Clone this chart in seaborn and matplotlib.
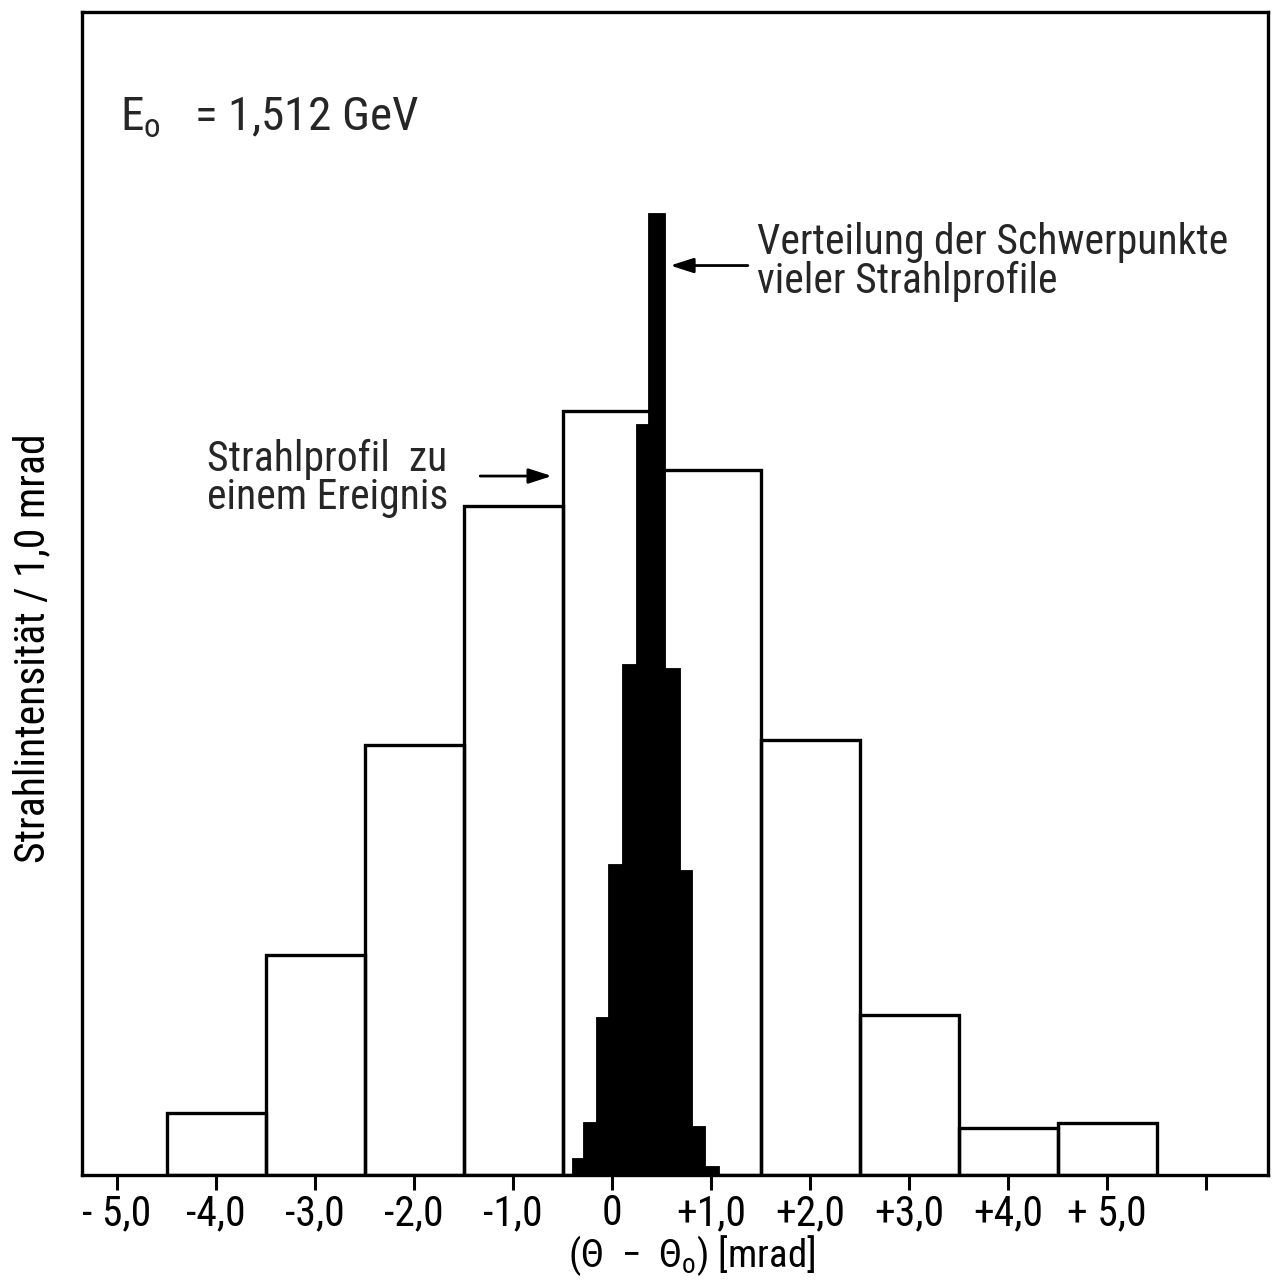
import numpy as np
import pandas as pd
import seaborn as sns
from matplotlib import pyplot as plt
from matplotlib import font_manager as fm

# open histogram: beam profile of one event (bin edges in mrad, heights in arbitrary units)
profile_edges = [-4.5, -3.5, -2.5, -1.5, -0.5, 0.5, 1.5, 2.5, 3.5, 4.5, 5.5]
profile_heights = [5.3, 18.9, 37.0, 57.5, 65.7, 60.6, 37.4, 13.8, 4.0, 4.5]

# filled histogram: distribution of the centroids of many beam profiles
centroid_edges = [-0.40, -0.29, -0.16, -0.04, 0.10, 0.24, 0.36, 0.54, 0.69, 0.81, 0.94, 1.08]
centroid_heights = [1.5, 4.6, 13.6, 26.7, 43.9, 64.6, 82.7, 43.6, 26.2, 4.2, 0.8]

tick_pos = [-5, -4, -3, -2, -1, 0, 1, 2, 3, 4, 5, 6]
tick_labels = ['- 5,0', '-4,0', '-3,0', '-2,0', '-1,0', '0', '+1,0', '+2,0', '+3,0', '+4,0', '+ 5,0', '']

sns.set_style('ticks')

# pick a narrow font if one is there
installed = {f.name: f for f in fm.fontManager.ttflist}
narrow = None
for name in ['Roboto Condensed', 'Liberation Sans Narrow', 'Open Sans Condensed', 'DejaVu Sans Condensed']:
    if name in installed:
        narrow = name
        break
stretch = 'normal'
if narrow is None:
    narrow = 'DejaVu Sans'
    if any(f.name == 'DejaVu Sans' and f.stretch == 'condensed' for f in fm.fontManager.ttflist):
        stretch = 'condensed'
plt.rcParams['font.family'] = [narrow, 'DejaVu Sans']
plt.rcParams['font.stretch'] = stretch
plt.rcParams['mathtext.fontset'] = 'custom'
plt.rcParams['mathtext.rm'] = narrow
plt.rcParams['mathtext.it'] = narrow

profile_centers = [(a + b) / 2 for a, b in zip(profile_edges[:-1], profile_edges[1:])]
centroid_centers = [(a + b) / 2 for a, b in zip(centroid_edges[:-1], centroid_edges[1:])]
df_profile = pd.DataFrame({'theta': profile_centers, 'w': profile_heights})
df_centroid = pd.DataFrame({'theta': centroid_centers, 'w': centroid_heights})

fig = plt.figure(figsize=(12.78, 12.85), dpi=100)
ax = fig.add_axes([82 / 1278, 1 - 1175 / 1285, 1186 / 1278, 1163 / 1285])

sns.histplot(data=df_profile, x='theta', weights='w', bins=profile_edges, fill=False,
             color='black', linewidth=2.4, ax=ax, zorder=2)
sns.histplot(data=df_centroid, x='theta', weights='w', bins=centroid_edges, fill=True,
             color='black', edgecolor='black', linewidth=0.6, alpha=1, ax=ax, zorder=3)

ax.set_xlim(-5.354, 6.626)
ax.set_ylim(0, 100)
ax.set_yticks([])
ax.set_xticks(tick_pos)
ax.set_xticklabels(tick_labels, fontsize=30)
ax.tick_params(axis='x', direction='out', length=11, width=2.2, pad=2, color='black', labelcolor='black')
for s in ax.spines.values():
    s.set_linewidth(2.4)
    s.set_color('black')

ax.set_ylabel('Strahlintensität / 1,0 mrad', fontsize=30, color='black')
ax.yaxis.set_label_coords(-0.024, 0.453)
ax.set_xlabel('(Θ  −  Θ$_\\mathrm{o}$) [mrad]', fontsize=28, color='black')
ax.xaxis.set_label_coords(0.514, -0.05)

ax.text(-4.97, 90.9, 'E$_\\mathrm{o}$   = 1,512 GeV', fontsize=34, va='center', ha='left')

ax.annotate('', xy=(0.56, 78.2), xytext=(1.40, 78.2),
            arrowprops=dict(arrowstyle='-|>,head_length=1.4,head_width=0.45', color='black', lw=2))
ax.text(1.465, 78.5, 'Verteilung der Schwerpunkte\nvieler Strahlprofile', fontsize=30,
        va='center', ha='left', linespacing=0.92)

ax.annotate('', xy=(-0.58, 60.1), xytext=(-1.36, 60.1),
            arrowprops=dict(arrowstyle='-|>,head_length=1.4,head_width=0.45', color='black', lw=2))
ax.text(-4.09, 59.9, 'Strahlprofil  zu\neinem Ereignis', fontsize=30,
        va='center', ha='left', linespacing=0.92)

plt.savefig('out.png', dpi=100)
